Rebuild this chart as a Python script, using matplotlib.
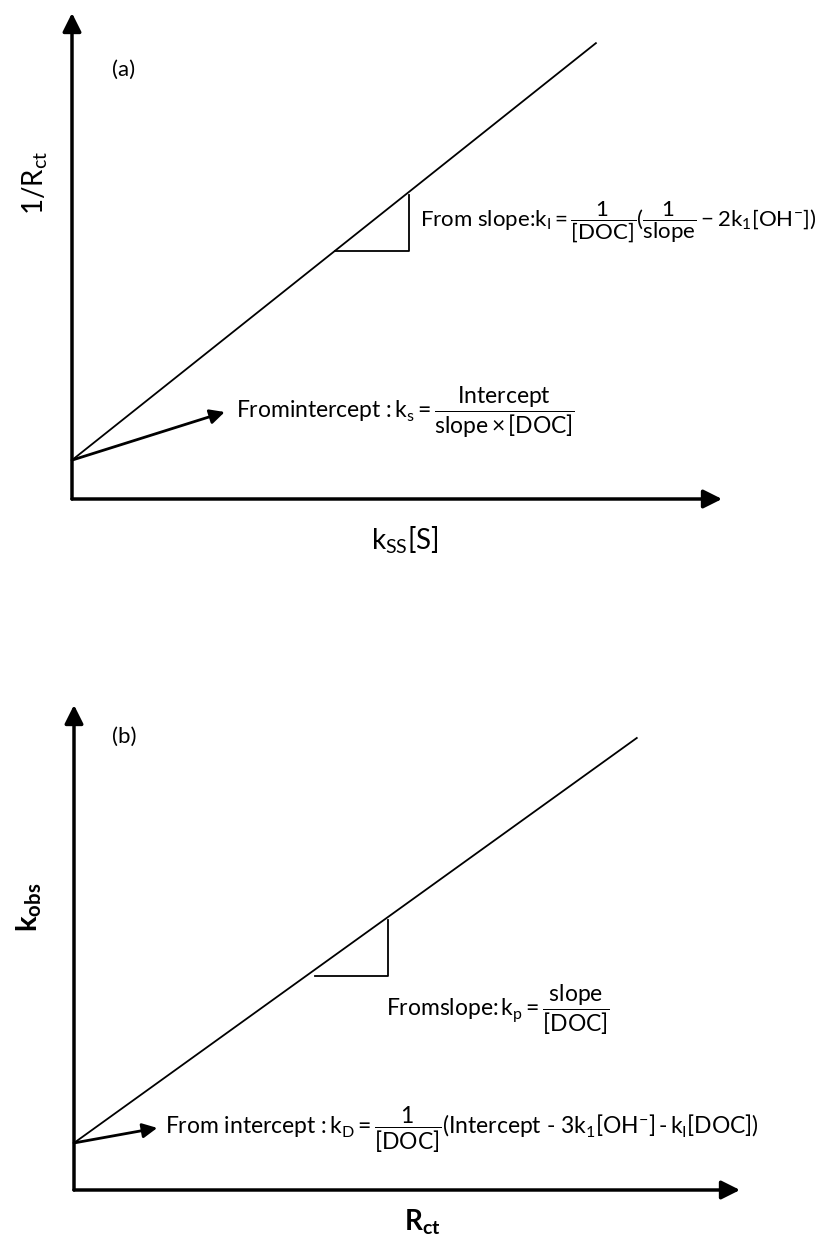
import matplotlib
matplotlib.use("Agg")
import matplotlib.pyplot as plt

plt.rcParams['font.family'] = ['Lato', 'DejaVu Sans']
plt.rcParams['mathtext.fontset'] = 'custom'
plt.rcParams['mathtext.rm'] = 'Lato'
plt.rcParams['mathtext.it'] = 'Lato:italic'
plt.rcParams['mathtext.bf'] = 'Lato:bold'

W, H = 827, 1236

# schematic lines, in panel units (origin = 0,0, axis tips = 1,1)
line_a_x = [0.0, 0.806]
line_a_y = [0.080, 0.938]
tri_a_x = [0.405, 0.518, 0.518]
tri_a_y = [0.510, 0.510, 0.625]
arrow_a = [(0.0, 0.080), (0.235, 0.179)]

line_b_x = [0.0, 0.845]
line_b_y = [0.097, 0.932]
tri_b_x = [0.362, 0.471, 0.471]
tri_b_y = [0.441, 0.441, 0.557]
arrow_b = [(0.0, 0.097), (0.125, 0.128)]

# labels
panel_tags = ['(a)', '(b)']
ylabels = [r'1/R$_\mathrm{ct}$', r'$\mathbf{k_{obs}}$']
xlabels = [r'k$_\mathrm{SS}$[S]', r'$\mathbf{R_{ct}}$']
slope_txt = [r'From slope:$\mathrm{k_I}=\dfrac{1}{[\mathrm{DOC}]}(\dfrac{1}{\mathrm{slope}}-2\mathrm{k_1}[\mathrm{OH^{-}}])$',
             r'Fromslope:$\,\mathrm{k_p}=\dfrac{\mathrm{slope}}{[\mathrm{DOC}]}$']
icpt_txt = [r'Fromintercept :$\,\mathrm{k_s}=\dfrac{\mathrm{Intercept}}{\mathrm{slope}\times[\mathrm{DOC}]}$',
            r'From intercept :$\,\mathrm{k_D}=\dfrac{1}{[\mathrm{DOC}]}(\mathrm{Intercept}\ \text{-}\ \mathrm{3k_1[OH^{-}]}\,\text{-}\,\mathrm{k_I[DOC]})$']


def px(x, y):
    return x / W, 1 - y / H


fig = plt.figure(figsize=(W / 100, H / 100), dpi=100)

# panel boxes in pixels: left, origin y, width, height
boxes = [(72, 499, 650, 486), (74, 1190, 666, 485)]
lines = [(line_a_x, line_a_y, tri_a_x, tri_a_y, arrow_a),
         (line_b_x, line_b_y, tri_b_x, tri_b_y, arrow_b)]

for (l, b, w, h), (lx, ly, tx, ty, arr) in zip(boxes, lines):
    ax = fig.add_axes([l / W, 1 - b / H, w / W, h / H])
    ax.set_xlim(0, 1)
    ax.set_ylim(0, 1)
    ax.axis('off')
    # axes drawn as arrows
    ax.annotate('', xy=(0, 1), xytext=(0, 0),
                arrowprops=dict(arrowstyle='-|>', lw=2.5, color='k', mutation_scale=28, shrinkA=0, shrinkB=0))
    ax.annotate('', xy=(1, 0), xytext=(0, 0),
                arrowprops=dict(arrowstyle='-|>', lw=2.5, color='k', mutation_scale=28, shrinkA=0, shrinkB=0))
    ax.plot(lx, ly, color='k', lw=1.3, clip_on=False)
    ax.plot(tx, ty, color='k', lw=1.3, clip_on=False)
    ax.annotate('', xy=arr[1], xytext=arr[0],
                arrowprops=dict(arrowstyle='-|>', lw=2, color='k', mutation_scale=22, shrinkA=0, shrinkB=0))

# text (pixel positions)
fig.text(*px(112, 70), panel_tags[0], fontsize=16, va='center', ha='left')
fig.text(*px(112, 737), panel_tags[1], fontsize=16, va='center', ha='left')
fig.text(*px(35, 183), ylabels[0], fontsize=20, rotation=90, va='center', ha='center')
fig.text(*px(29, 907), ylabels[1], fontsize=21, rotation=90, va='center', ha='center')
fig.text(*px(405, 540), xlabels[0], fontsize=20, va='center', ha='center')
fig.text(*px(422, 1222), xlabels[1], fontsize=20, va='center', ha='center')

fig.text(*px(420, 222), slope_txt[0], fontsize=16, va='center', ha='left')
fig.text(*px(236, 412), icpt_txt[0], fontsize=16.5, va='center', ha='left')
fig.text(*px(386, 1010), slope_txt[1], fontsize=16.5, va='center', ha='left')
fig.text(*px(165, 1130), icpt_txt[1], fontsize=16.5, va='center', ha='left')

fig.savefig('out.png', dpi=100, facecolor='white')
